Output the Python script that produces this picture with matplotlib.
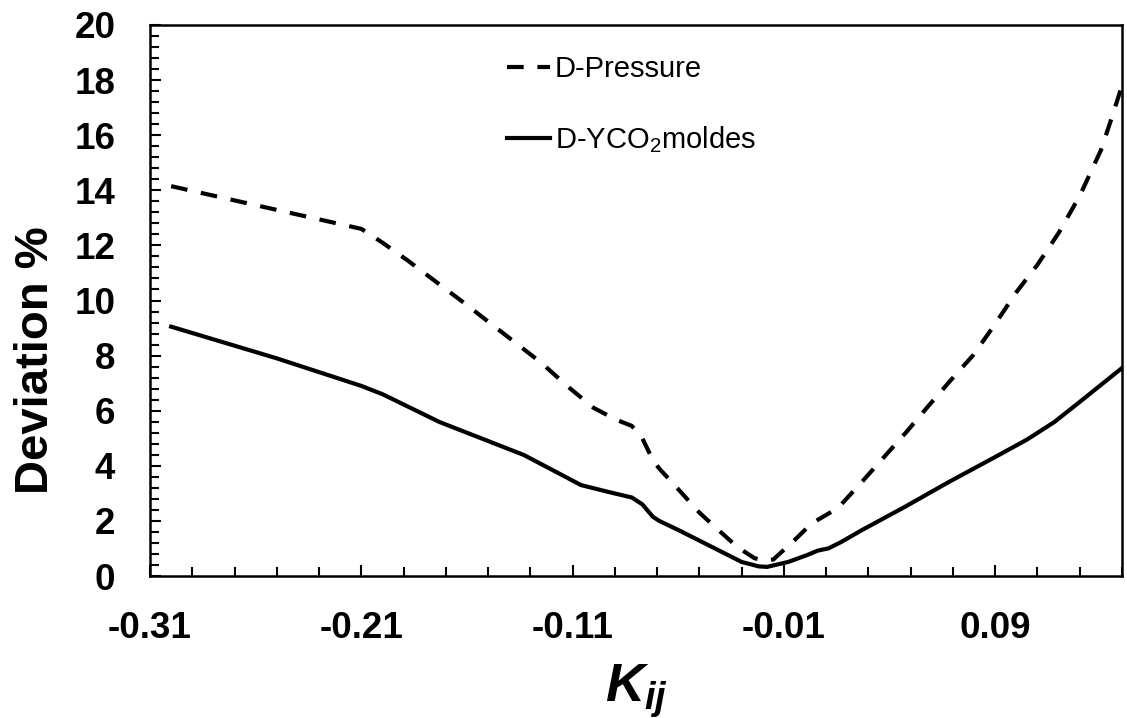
import numpy as np
import matplotlib
matplotlib.use("Agg")
import matplotlib.pyplot as plt
from matplotlib.ticker import MultipleLocator, FixedLocator

plt.rcParams['font.family'] = ['Liberation Sans', 'DejaVu Sans']
plt.rcParams['mathtext.fontset'] = 'custom'
plt.rcParams['mathtext.rm'] = 'Liberation Sans'
plt.rcParams['mathtext.it'] = 'Liberation Sans:italic:bold'
plt.rcParams['mathtext.default'] = 'regular'

# ------------------------------------------------------
# data
# ------------------------------------------------------
kij_pressure = [-0.30, -0.21, -0.20, -0.188, -0.162, -0.125, -0.112, -0.10, -0.089,
                -0.082, -0.077, -0.072, -0.069, -0.060, -0.050, -0.040, -0.032,
                -0.024, -0.019, -0.015, -0.010, -0.005, 0.003, 0.0156, 0.0265,
                0.0374, 0.048, 0.0587, 0.069, 0.0796, 0.089, 0.10, 0.11, 0.12,
                0.13, 0.14, 0.145, 0.15]
dev_pressure = [14.15, 12.6, 12.1, 11.45, 9.95, 7.75, 6.86, 6.1, 5.66,
                5.45, 5.0, 4.2, 3.9, 3.15, 2.3, 1.6, 1.05,
                0.65, 0.55, 0.6, 0.95, 1.3, 1.9, 2.47, 3.38,
                4.32, 5.23, 6.2, 7.11, 8.02, 9.04, 10.3, 11.3, 12.45,
                13.8, 15.45, 16.6, 17.8]

kij_yco2 = [-0.30, -0.25, -0.21, -0.20, -0.173, -0.133, -0.106, -0.093, -0.082,
            -0.077, -0.072, -0.069, -0.060, -0.046, -0.030, -0.022, -0.018,
            -0.008, 0.001, 0.006, 0.009, 0.011, 0.017, 0.027, 0.047, 0.068,
            0.090, 0.105, 0.118, 0.131, 0.15]
dev_yco2 = [9.05, 7.9, 6.9, 6.6, 5.59, 4.39, 3.3, 3.05, 2.85,
            2.6, 2.15, 2.0, 1.67, 1.13, 0.51, 0.35, 0.33,
            0.51, 0.76, 0.92, 0.97, 1.0, 1.23, 1.67, 2.5, 3.41,
            4.32, 4.95, 5.59, 6.38, 7.55]

xticks = [-0.31, -0.21, -0.11, -0.01, 0.09]
xtick_labels = ["-0.31", "-0.21", "-0.11", "-0.01", "0.09"]

# ------------------------------------------------------
# plot
# ------------------------------------------------------
fig = plt.figure(figsize=(11.27, 7.18), dpi=100)
ax = fig.add_axes([150/1127, 1 - 576/718, (1122-150)/1127, (576-25)/718])

ax.plot(kij_pressure, dev_pressure, color='black', linewidth=3,
        linestyle=(0, (4, 3.3)), label='D-Pressure')
ax.plot(kij_yco2, dev_yco2, color='black', linewidth=3,
        linestyle='-', label='D-YCO$_2$moldes')

ax.set_xlim(-0.31, 0.15)
ax.set_ylim(0, 20)

ax.xaxis.set_major_locator(FixedLocator(xticks))
ax.set_xticklabels(xtick_labels)
ax.xaxis.set_minor_locator(FixedLocator(np.arange(-0.31, 0.151, 0.02)))
ax.yaxis.set_major_locator(MultipleLocator(2))
ax.yaxis.set_minor_locator(MultipleLocator(0.4))

ax.tick_params(axis='both', which='major', direction='in', length=8, width=1.5,
               labelsize=26.5, pad=25)
ax.tick_params(axis='both', which='minor', direction='in', length=6.5, width=1.5)
ax.tick_params(top=False, right=False, which='both')
for lbl in ax.get_xticklabels() + ax.get_yticklabels():
    lbl.set_fontweight('bold')

for sp in ax.spines.values():
    sp.set_linewidth(1.8)

ax.set_ylabel('Deviation %', fontsize=34, fontweight='bold')
ax.yaxis.set_label_coords(-0.0947, 0.392)
ax.set_xlabel(r'$\mathit{K_{ij}}$', fontsize=39, labelpad=12)

leg = ax.legend(loc='upper left', bbox_to_anchor=(357/972, 0.945), frameon=False,
                fontsize=21, handlelength=1.47, handletextpad=0.17,
                labelspacing=1.4, borderpad=0, borderaxespad=0)

plt.savefig('out.png', dpi=100)
